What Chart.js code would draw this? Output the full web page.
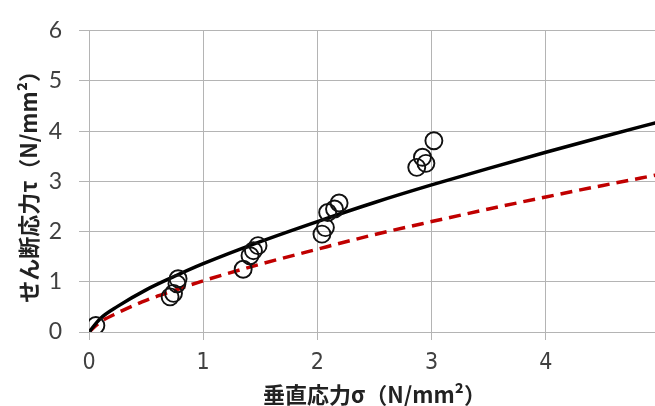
<!DOCTYPE html>
<html lang="ja">
<head>
  <meta charset="UTF-8">
  <title>せん断応力と垂直応力</title>
  <script src="https://cdn.jsdelivr.net/npm/chart.js"></script>
  <style>
    html, body { margin: 0; padding: 0; background: #fff; overflow: hidden; }
    #wrap { width: 655px; height: 406px; overflow: hidden; }
  </style>
</head>
<body>
  <div id="wrap">
    <canvas id="grafik" width="680" height="406"></canvas>
  </div>
  <script>
    // 試験結果（垂直応力σ, せん断応力τ）
    const sigmaObs = [0.06, 0.71, 0.74, 0.77, 0.78, 1.35, 1.41, 1.44, 1.48, 2.04, 2.07, 2.09, 2.15, 2.19, 2.87, 2.92, 2.95, 3.02];
    const tauObs   = [0.13, 0.70, 0.77, 0.96, 1.06, 1.25, 1.52, 1.62, 1.72, 1.95, 2.08, 2.38, 2.45, 2.57, 3.28, 3.48, 3.36, 3.81];

    // 強度曲線
    const sigmaCurve = [0, 0.1, 0.25, 0.5, 0.75, 1, 1.5, 2, 2.5, 3, 3.5, 4, 4.5, 5];
    const tauMean    = [0, 0.27, 0.51, 0.84, 1.11, 1.36, 1.80, 2.20, 2.58, 2.93, 3.26, 3.58, 3.89, 4.19];
    const tauDesign  = [0, 0.20, 0.38, 0.63, 0.83, 1.02, 1.35, 1.65, 1.94, 2.20, 2.45, 2.69, 2.92, 3.14];

    const xTicks = [0, 1, 2, 3, 4, 5];
    const yTicks = [0, 1, 2, 3, 4, 5, 6];

    const pts = (xs, ys) => xs.map((x, i) => ({ x: x, y: ys[i] }));

    const gridColor = '#b4b4b4';
    const tickColor = '#404040';

    new Chart(document.getElementById('grafik'), {
      type: 'scatter',
      data: {
        datasets: [
          {
            label: '試験値',
            data: pts(sigmaObs, tauObs),
            pointStyle: 'circle',
            pointRadius: 8.5,
            pointBorderWidth: 1.9,
            pointBorderColor: '#111',
            pointBackgroundColor: 'rgba(0,0,0,0)',
            order: 0
          },
          {
            label: '平均',
            data: pts(sigmaCurve, tauMean),
            showLine: true,
            borderColor: '#000',
            borderWidth: 3.5,
            pointRadius: 0,
            cubicInterpolationMode: 'monotone',
            order: 1
          },
          {
            label: '設計',
            data: pts(sigmaCurve, tauDesign),
            showLine: true,
            borderColor: '#c00000',
            borderWidth: 3.5,
            borderDash: [12, 7],
            pointRadius: 0,
            cubicInterpolationMode: 'monotone',
            order: 2
          }
        ]
      },
      options: {
        responsive: false,
        animation: false,
        devicePixelRatio: 1,
        layout: { padding: { top: 19, right: 20, bottom: 0, left: 0 } },
        plugins: {
          legend: { display: false },
          tooltip: { enabled: false }
        },
        scales: {
          x: {
            type: 'linear',
            min: 0,
            max: 5,
            afterBuildTicks: s => { s.ticks = xTicks.map(v => ({ value: v })); },
            afterFit: s => { s.height = 74; },
            grid: { color: gridColor, lineWidth: 1, tickLength: 8 },
            border: { color: gridColor, width: 1 },
            ticks: {
              padding: 9,
              color: tickColor,
              font: { family: "'Liberation Sans Narrow', 'DejaVu Sans Condensed', sans-serif", size: 23 },
              callback: v => (v === 5 ? '' : v)
            },
            title: {
              display: true,
              text: '垂直応力σ（N/mm²）',
              color: '#222',
              padding: { top: 0, bottom: 0 },
              font: { family: "'Noto Sans CJK JP', sans-serif", size: 22, weight: 'bold', lineHeight: 1.0 }
            }
          },
          y: {
            type: 'linear',
            min: 0,
            max: 6,
            afterBuildTicks: s => { s.ticks = yTicks.map(v => ({ value: v })); },
            afterFit: s => { s.width = 89; },
            grid: { color: gridColor, lineWidth: 1, tickLength: 10 },
            border: { color: gridColor, width: 1 },
            ticks: {
              padding: 17,
              color: tickColor,
              font: { family: "Lato, 'Open Sans', sans-serif", size: 23 }
            },
            title: {
              display: true,
              text: 'せん断応力τ（N/mm²）',
              color: '#222',
              padding: { top: 15, bottom: 0 },
              font: { family: "'Noto Sans CJK JP', sans-serif", size: 22, weight: 'bold' }
            }
          }
        }
      }
    });
  </script>
</body>
</html>
